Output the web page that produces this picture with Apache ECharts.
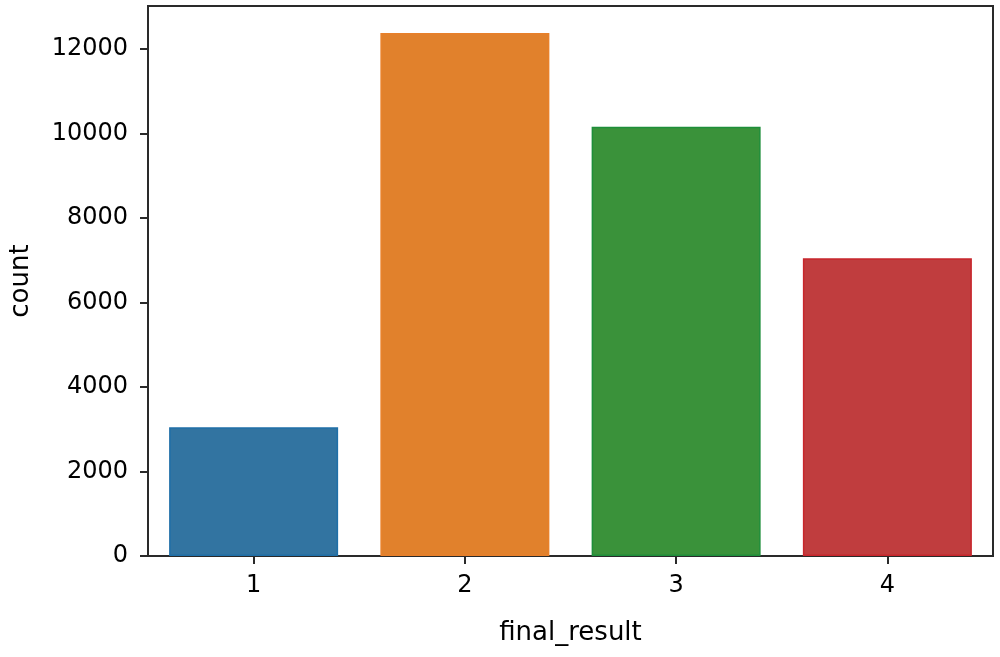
<!DOCTYPE html>
<html>
<head>
<meta charset="utf-8">
<script src="https://cdn.jsdelivr.net/npm/echarts@6/dist/echarts.min.js"></script>
<style>
html,body{margin:0;padding:0;background:#fff;}
#chart{width:1000px;height:657px;}
</style>
</head>
<body>
<div id="chart"></div>
<script>
const categories = ['1', '2', '3', '4'];
const counts = [3050, 12380, 10160, 7050];
const yTicks = [0, 2000, 4000, 6000, 8000, 10000, 12000];
const fillColors = ['#3274a1', '#e1812c', '#3a923a', '#c03d3e'];
const edgeColors = ['#1f6fa8', '#e8802a', '#1e8e3a', '#c8262c'];

const chart = echarts.init(document.getElementById('chart'));
const font = 'DejaVu Sans';
const spine = '#2a2a2a';
chart.setOption({
  animation: false,
  backgroundColor: '#ffffff',
  grid: {
    left: 147, right: 7, top: 6, bottom: 101,
    show: true, borderColor: spine, borderWidth: 2, backgroundColor: 'transparent'
  },
  xAxis: {
    type: 'category',
    data: categories,
    name: 'final_result',
    nameLocation: 'middle',
    nameGap: 64,
    nameTextStyle: { fontFamily: font, fontSize: 26, color: '#000' },
    axisLine: { show: true, lineStyle: { color: spine, width: 2 } },
    axisTick: { show: true, alignWithLabel: true, length: 8, lineStyle: { color: spine, width: 2 } },
    axisLabel: { fontFamily: font, fontSize: 24, color: '#000', margin: 18 },
    splitLine: { show: false }
  },
  yAxis: {
    type: 'value',
    min: 0,
    max: 13020,
    interval: 2000,
    name: 'count',
    nameLocation: 'middle',
    nameGap: 114,
    nameTextStyle: { fontFamily: font, fontSize: 26, color: '#000' },
    axisLine: { show: true, lineStyle: { color: spine, width: 2 } },
    axisTick: { show: true, length: 8, customValues: yTicks, lineStyle: { color: spine, width: 2 } },
    axisLabel: {
      fontFamily: font, fontSize: 24, color: '#000', margin: 20, customValues: yTicks,
      formatter: v => String(v)
    },
    splitLine: { show: false }
  },
  series: [{
    type: 'bar',
    barCategoryGap: '20%',
    data: counts.map((v, i) => ({
      value: v,
      itemStyle: { color: fillColors[i], borderColor: edgeColors[i], borderWidth: 1.5 }
    }))
  }]
});
</script>
</body>
</html>
